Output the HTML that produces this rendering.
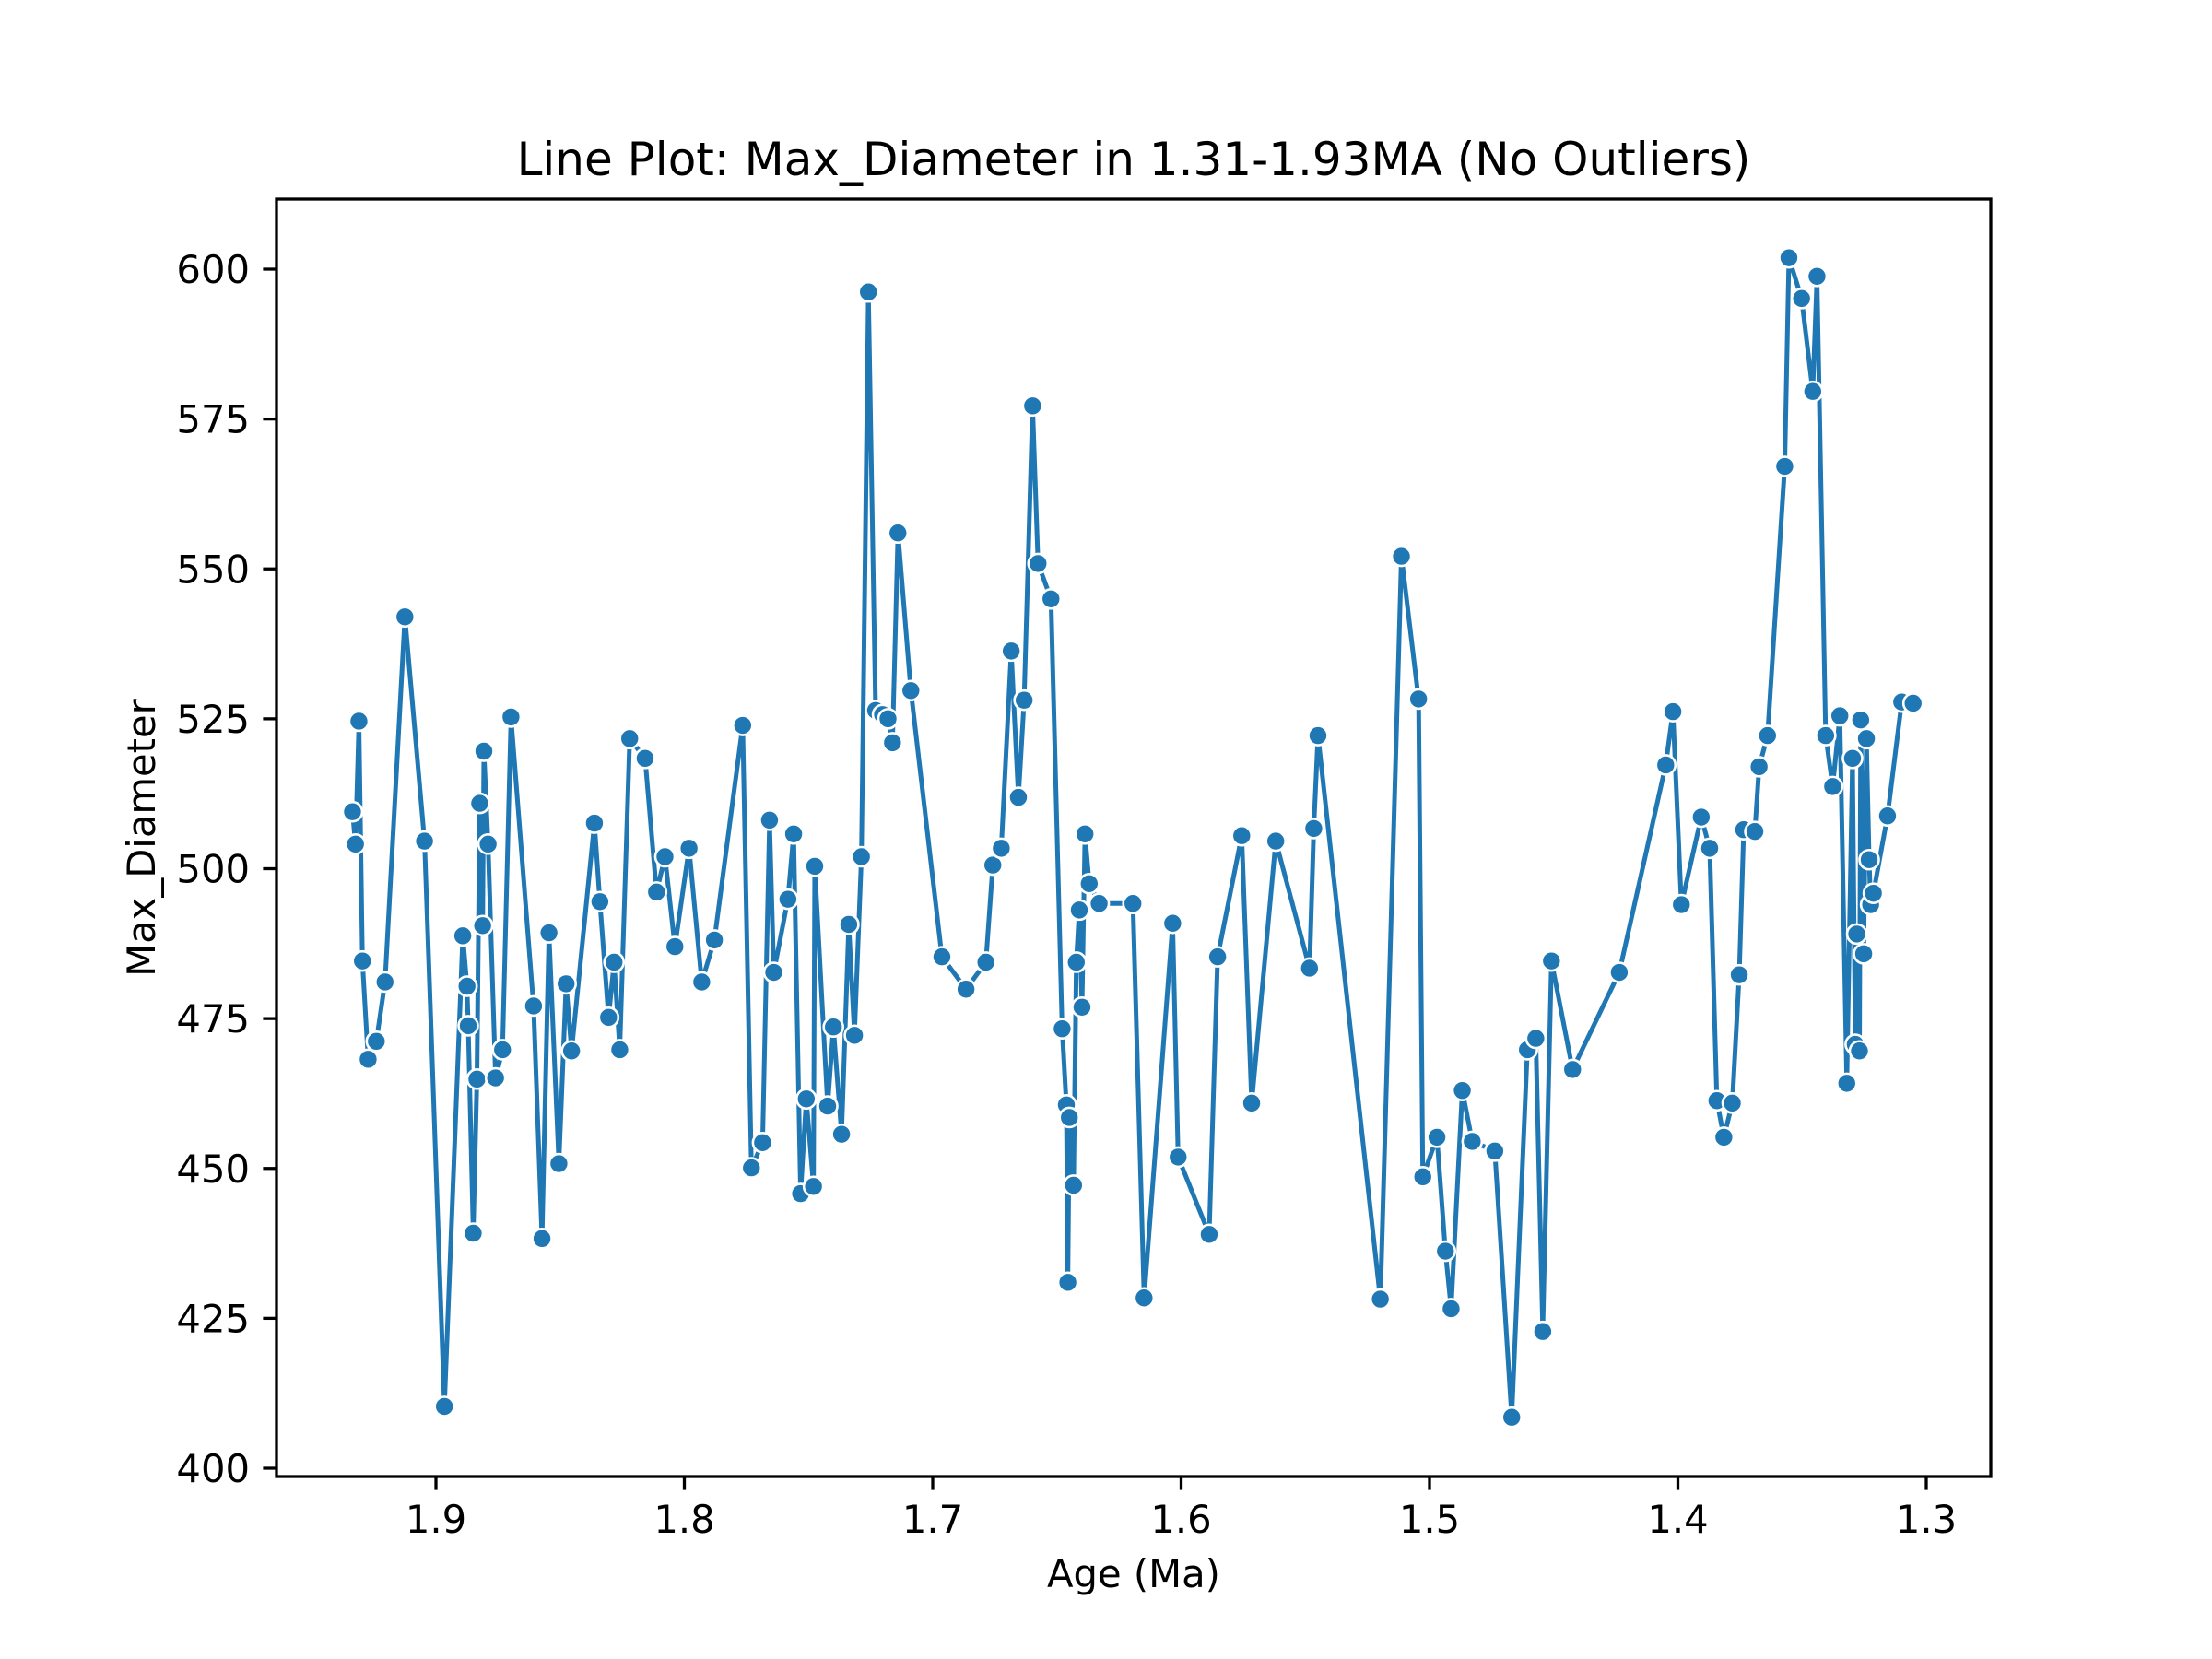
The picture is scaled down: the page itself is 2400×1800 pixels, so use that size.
<!DOCTYPE html>
<html><head><meta charset="utf-8"><style>
body{margin:0;background:#fff}
svg{display:block;font-family:"DejaVu Sans","Liberation Sans",sans-serif}
</style></head><body>
<svg id="chart" width="2400" height="1800" viewBox="0 0 2400 1800" xmlns="http://www.w3.org/2000/svg">
<rect width="2400" height="1800" fill="#fff"/>
<text x="1230" y="190" font-size="50" text-anchor="middle">Line Plot: Max_Diameter in 1.31-1.93MA (No Outliers)</text>
<text x="1230" y="1722" font-size="41.7" text-anchor="middle">Age (Ma)</text>
<text transform="translate(168,909) rotate(-90)" font-size="41.7" text-anchor="middle">Max_Diameter</text>
<g id="xticks"></g><g id="yticks"></g>
<g id="series"></g>
<rect x="300" y="216" width="1860" height="1386" fill="none" stroke="#000" stroke-width="3.3"/>
</svg>
<script>
const ages=[1.9336,1.9324,1.931,1.9296,1.9273,1.924,1.9205,1.9125,1.9046,1.8966,1.8892,1.8875,1.887,1.885,1.8835,1.8824,1.8812,1.8807,1.879,1.876,1.8732,1.8698,1.8607,1.8573,1.8545,1.8505,1.8476,1.8454,1.8362,1.834,1.8305,1.8283,1.826,1.822,1.8158,1.8112,1.8078,1.8038,1.7981,1.793,1.7879,1.7765,1.773,1.7685,1.7657,1.764,1.7583,1.756,1.7532,1.7509,1.748,1.7475,1.7423,1.74,1.7367,1.7338,1.7315,1.7287,1.7259,1.723,1.7202,1.718,1.7162,1.714,1.7088,1.6963,1.6866,1.6786,1.6758,1.6724,1.6684,1.6655,1.6632,1.6598,1.6576,1.6524,1.6479,1.6462,1.6456,1.645,1.6433,1.6422,1.641,1.6399,1.6387,1.637,1.633,1.6194,1.6149,1.6034,1.6012,1.5887,1.5853,1.5756,1.5716,1.5619,1.5483,1.5466,1.5449,1.5198,1.5113,1.5044,1.5027,1.497,1.4936,1.4913,1.4868,1.4828,1.4737,1.4669,1.4606,1.4572,1.4544,1.4509,1.4424,1.4236,1.4049,1.402,1.3986,1.3906,1.3872,1.3843,1.3815,1.3781,1.3753,1.3735,1.369,1.3673,1.3639,1.357,1.3553,1.3502,1.3457,1.344,1.3405,1.3377,1.3348,1.332,1.3297,1.3286,1.328,1.3269,1.3264,1.3252,1.3241,1.323,1.3224,1.3213,1.3156,1.3099,1.3053];
const diameters=[509.5,504.1,524.6,484.6,468.2,471.2,481.1,542,504.6,410.3,488.8,480.4,473.8,439.2,464.9,510.9,490.5,519.6,504.1,465.1,469.8,525.3,477.1,438.3,489.3,450.8,480.8,469.6,507.6,494.5,475.2,484.4,469.8,521.7,518.4,496.1,502,487,503.4,481.1,488.1,523.9,450.1,454.3,508.1,482.7,494.9,505.8,445.8,461.6,447,500.4,460.4,473.6,455.7,490.7,472.2,502,596.2,526.4,525.7,525,521,556,529.7,485.3,479.9,484.4,500.6,503.4,536.3,511.9,528.1,577.2,550.9,545,473.3,460.6,431,458.5,447.2,484.4,493.1,476.9,505.8,497.5,494.2,494.2,428.4,490.9,451.9,439,485.3,505.5,460.9,504.6,483.4,506.7,522.2,428.2,552.1,528.3,448.6,455.2,436.2,426.6,463,454.5,452.9,408.5,469.8,471.7,422.8,484.6,466.5,482.7,517.3,526.2,494,508.6,503.4,461.3,455.2,460.9,482.3,506.5,506.2,517,522.2,567.1,601.9,595.1,579.6,598.8,522.2,513.7,525.5,464.2,518.4,470.7,489.1,469.6,524.8,485.8,521.7,501.5,494,495.9,508.8,527.8,527.6];
const xTickVals=[1.9,1.8,1.7,1.6,1.5,1.4,1.3];
const xTickLabels=["1.9","1.8","1.7","1.6","1.5","1.4","1.3"];
const yTickVals=[400,425,450,475,500,525,550,575,600];
const yTickLabels=["400","425","450","475","500","525","550","575","600"];
const NS='http://www.w3.org/2000/svg';
function xScale(a){return 473+(1.9-a)*2695;}
function yScale(v){return 1593-(v-400)*6.505;}
function mk(tag,attrs,parent){const e=document.createElementNS(NS,tag);for(const k in attrs)e.setAttribute(k,attrs[k]);parent.appendChild(e);return e;}
const xg=document.getElementById('xticks'),yg=document.getElementById('yticks'),sg=document.getElementById('series');
xTickVals.forEach((v,i)=>{const x=xScale(v);
 const t=mk('line',{x1:x,x2:x,y1:1602,y2:1616.6,stroke:'#000','stroke-width':3.3},xg);
 
 
 const l=mk('text',{x:x,y:1663,'font-size':41.7,'text-anchor':'middle'},xg);l.textContent=xTickLabels[i];
 
 
});
yTickVals.forEach((v,i)=>{const y=yScale(v);
 const t=mk('line',{x1:285.4,x2:300,y1:y,y2:y,stroke:'#000','stroke-width':3.3},yg);
 
 
 const l=mk('text',{x:271,y:y+15,'font-size':41.7,'text-anchor':'end'},yg);l.textContent=yTickLabels[i];
 
 
});
const pts=ages.map((a,i)=>xScale(a)+','+yScale(diameters[i])).join(' ');
const pl=mk('polyline',{points:pts,fill:'none',stroke:'#1f77b4','stroke-width':5,'stroke-linejoin':'round'},sg);


ages.forEach((a,i)=>{const c=mk('circle',{cx:xScale(a),cy:yScale(diameters[i]),r:10.5,fill:'#1f77b4',stroke:'#fff','stroke-width':2.6},sg);
 
 
});
</script>
</body></html>
